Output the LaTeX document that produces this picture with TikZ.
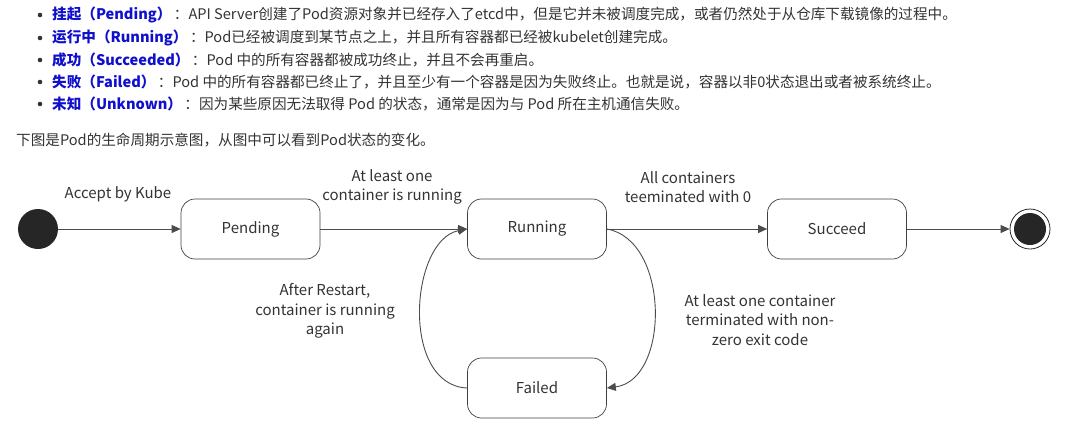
\documentclass[tikz,border=0pt]{standalone}
\usepackage{fontspec}
\setmainfont{Noto Sans CJK SC}
\usetikzlibrary{arrows.meta}
\definecolor{txt}{HTML}{333333}
\definecolor{bl}{HTML}{1010CC}
\begin{document}
\begin{tikzpicture}[x=1pt,y=-1pt,
  state/.style={draw=black!75,line width=0.7pt,rounded corners=14pt,minimum width=139pt,minimum height=60pt,font=\fontsize{15}{18}\selectfont,text=black!80},
  lbl/.style={font=\fontsize{15}{19.5}\selectfont,text=black!80,align=center},
  conn/.style={draw=black!70,line width=0.9pt,-{Triangle[length=9pt,width=8pt]}},
  top/.style={anchor=west,font=\fontsize{14.6}{16}\selectfont,text=txt,inner sep=0pt}]
\useasboundingbox (0,0) rectangle (1075,445);
\foreach \y/\a/\b [count=\i] in {15/挂起（Pending）/：API Server创建了Pod资源对象并已经存入了etcd中，但是它并未被调度完成，或者仍然处于从仓库下载镜像的过程中。,
 38/运行中（Running）/：Pod已经被调度到某节点之上，并且所有容器都已经被kubelet创建完成。,
 60/成功（Succeeded）/：Pod 中的所有容器都被成功终止，并且不会再重启。,
 82/失败（Failed）/：Pod 中的所有容器都已终止了，并且至少有一个容器是因为失败终止。也就是说，容器以非0状态退出或者被系统终止。,
 104/未知（Unknown）/：因为某些原因无法取得 Pod 的状态，通常是因为与 Pod 所在主机通信失败。}{
  \fill[txt] (40,\y) circle (2.3pt);
  \node[top] (t\i) at (52,\y) {\textcolor{bl}{\bfseries\a}\,\b};
}
\node[top] (para) at (16,140) {下图是Pod的生命周期示意图，从图中可以看到Pod状态的变化。};
\fill[black!85] (38,229) circle (20pt) coordinate (s0);
\node[circle,minimum size=40pt,inner sep=0pt] (start) at (38,229) {};
\node[state] (pend) at (250.5,229) {Pending};
\node[state] (run) at (537,229) {Running};
\node[state] (succ) at (837,229) {Succeed};
\node[state] (fail) at (537,388) {Failed};
\node[circle,draw=black!85,line width=0.8pt,minimum size=40pt,inner sep=0pt] (end) at (1030,229) {};
\fill[black!85] (1030,229) circle (16pt);
\draw[conn] (start) -- (pend);
\draw[conn] (pend) -- (run);
\draw[conn] (run) -- (succ);
\draw[conn] (succ) -- (end);
\draw[conn] (run.east) .. controls (670,240) and (670,380) .. (fail.east);
\draw[conn] (fail.west) .. controls (400,385) and (410,240) .. (run.west);
\node[lbl] (l1) at (118,194) {Accept by Kube};
\node[lbl] (l2) at (392,187) {At least one\\container is running};
\node[lbl] (l3) at (688,187) {All containers\\teeminated with 0};
\node[lbl] (l4) at (325,311) {After Restart,\\container is running\\again};
\node[lbl] (l5) at (760,320) {At least one container\\terminated with non-\\zero exit code};
\end{tikzpicture}
\end{document}
